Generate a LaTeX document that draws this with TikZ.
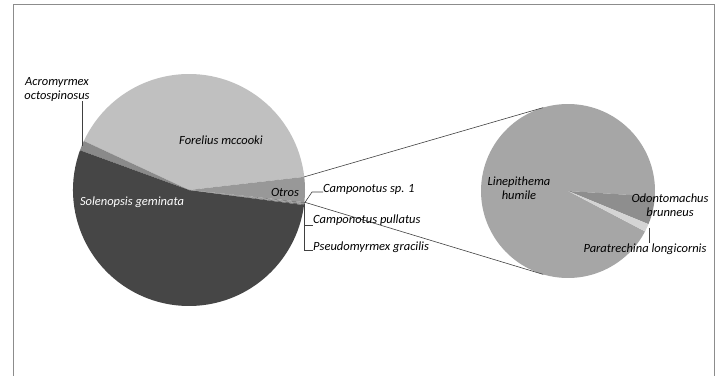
\documentclass[tikz,border=0pt]{standalone}
\usepackage{fontspec}
\setmainfont{Carlito}
\usetikzlibrary{positioning,calc}
\definecolor{foreG}{RGB}{192,192,192}
\definecolor{soleG}{RGB}{70,70,70}
\definecolor{acroG}{RGB}{138,138,138}
\definecolor{otroG}{RGB}{152,152,152}
\definecolor{lineG}{RGB}{166,166,166}
\definecolor{odonG}{RGB}{142,142,142}
\definecolor{paraG}{RGB}{212,212,212}
\definecolor{frameG}{RGB}{140,140,140}

\begin{document}
\begin{tikzpicture}[x=1pt, y=1pt,
	lbl/.style={font=\fontsize{12.5}{14}\selectfont\itshape, inner sep=0pt},
	lead/.style={draw=black!75, line width=0.6pt}]
			\useasboundingbox (0,0) rectangle (719,375);
			\draw[frameG, line width=1pt] (13,-5) rectangle (714,370);
			\coordinate (m) at (189,185);
			\coordinate (s) at (568,184);
			\fill[foreG] (m) -- ++(6.5:116) arc[start angle=6.5, end angle=155, radius=116] -- cycle;
			\fill[acroG] (m) -- ++(155:116) arc[start angle=155, end angle=160, radius=116] -- cycle;
			\fill[soleG] (m) -- ++(160:116) arc[start angle=160, end angle=352.5, radius=116] -- cycle;
			\fill[black!60] (m) -- ++(352.5:116) arc[start angle=352.5, end angle=353, radius=116] -- cycle;
			\fill[black!40] (m) -- ++(353:116) arc[start angle=353, end angle=353.5, radius=116] -- cycle;
			\fill[black!50] (m) -- ++(353.5:116) arc[start angle=353.5, end angle=354, radius=116] -- cycle;
			\fill[otroG] (m) -- ++(354:116) arc[start angle=354, end angle=366.5, radius=116] -- cycle;
			\fill[lineG] (s) -- ++(-3.7:87) arc[start angle=-3.7, end angle=332.3, radius=87] -- cycle;
			\fill[odonG] (s) -- ++(-22.4:87) arc[start angle=-22.4, end angle=-3.7, radius=87] -- cycle;
			\fill[paraG] (s) -- ++(-27.7:87) arc[start angle=-27.7, end angle=-22.4, radius=87] -- cycle;
			\coordinate (o1) at ($(m)+(6.5:116)$);
			\coordinate (o2) at ($(m)+(-6:116)$);
			\coordinate (p1) at ($(s)+(106.5:87)$);
			\coordinate (p2) at ($(s)+(253.5:87)$);
			\coordinate (ca) at ($(m)+(-6.7:116)$);
			\coordinate (ac) at ($(m)+(157.5:116)$);
			\coordinate (pa) at ($(s)+(-25:87)$);
			\draw[lead] (o1) -- (p1);
			\draw[lead] (o2) -- (p2);
			\node (fore) at (221,235) [lbl] {Forelius mccooki};
			\node (sole) at (132,173) [lbl, white] {Solenopsis geminata};
			\node (otro) at (285,183) [lbl] {Otros};
			\node (acro) at (57,286) [lbl, align=center] {Acromyrmex\\octospinosus};
			\node (line) at (519,187) [lbl, align=center] {Linepithema\\humile};
			\node (odon) at (670,170) [lbl, align=center] {Odontomachus\\brunneus};
			\node (para) at (645,126) [lbl] {Paratrechina longicornis};
			\node (cam1) at (323,186) [lbl, anchor=west] {Camponotus sp. 1};
			\node (cam2) at (313,155) [lbl, anchor=west] {Camponotus pullatus};
			\node (pseu) at (313,128) [lbl, anchor=west] {Pseudomyrmex gracilis};
			\draw[lead] (ca) -- (312,183) -- (cam1.west |- 0,183);
			\draw[lead] (ca) |- (cam2.west |- 0,150);
			\draw[lead] (ca) |- (pseu.west |- 0,125);
			\draw[lead] (acro.south -| ac) -- (ac);
			\draw[lead] (pa -| 649,0) -- (para.north -| 649,0);
			\end{tikzpicture}
\end{document}
